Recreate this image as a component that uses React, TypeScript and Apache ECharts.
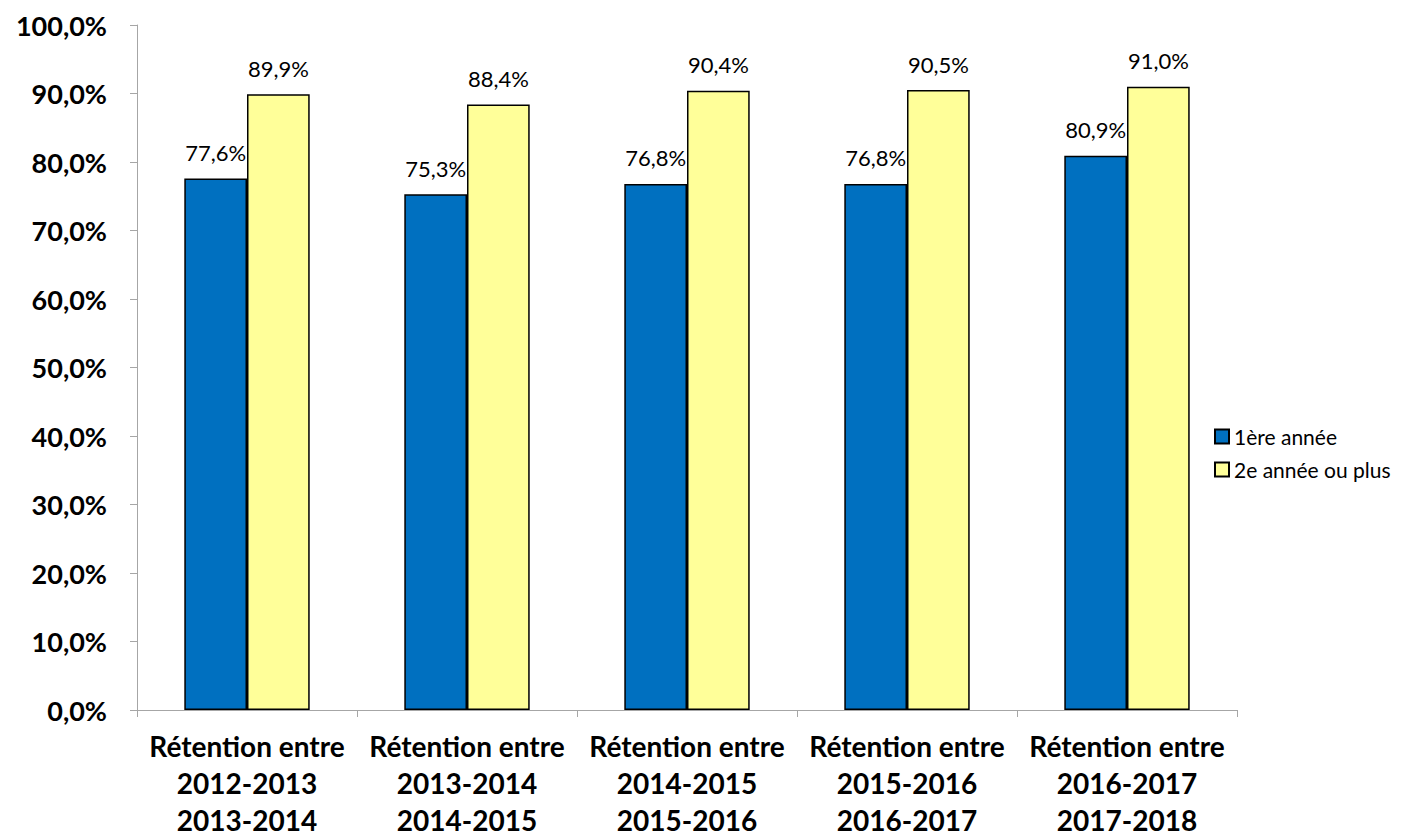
import React, { useEffect, useRef } from "react";
import * as echarts from "echarts";

const categories = [
  "Rétention entre\n2012-2013\n2013-2014",
  "Rétention entre\n2013-2014\n2014-2015",
  "Rétention entre\n2014-2015\n2015-2016",
  "Rétention entre\n2015-2016\n2016-2017",
  "Rétention entre\n2016-2017\n2017-2018",
];
const firstYear = [77.6, 75.3, 76.8, 76.8, 80.9];
const secondYearPlus = [89.9, 88.4, 90.4, 90.5, 91.0];
const seriesNames = ["1ère année", "2e année ou plus"];

const FONT = "Lato, 'Open Sans', sans-serif";
const fmt = (v: number) => v.toFixed(1).replace(".", ",") + "%";

export default function App() {
  const ref = useRef<HTMLDivElement>(null);
  useEffect(() => {
    const chart = echarts.init(ref.current!, null, { renderer: "svg" });
    const label = {
      show: true,
      position: "top",
      distance: 15,
      fontSize: 22,
      color: "#000",
      fontFamily: FONT,
      formatter: (p: any) => fmt(p.value),
    };
    chart.setOption({
      animation: false,
      textStyle: { fontFamily: FONT },
      grid: { left: 137, right: 183, top: 25, bottom: 130, outerBoundsMode: "none", containLabel: false },
      legend: {
        orient: "vertical",
        left: 1209,
        top: 421,
        icon: "rect",
        itemWidth: 14,
        itemHeight: 14,
        itemGap: 12,
        textStyle: { fontSize: 21, color: "#000", fontFamily: FONT },
        data: seriesNames,
      },
      xAxis: {
        type: "category",
        data: categories,
        axisLine: { lineStyle: { color: "#a6a6a6" } },
        axisTick: { show: true, length: 7, lineStyle: { color: "#a6a6a6" } },
        axisLabel: {
          fontSize: 28,
          fontWeight: "bold",
          color: "#000",
          lineHeight: 37,
          margin: 17,
          interval: 0,
          fontFamily: FONT,
        },
      },
      yAxis: {
        type: "value",
        min: 0,
        max: 100,
        interval: 10,
        splitLine: { show: false },
        axisLine: { show: true, lineStyle: { color: "#a6a6a6" } },
        axisTick: { show: true, length: 7, lineStyle: { color: "#a6a6a6" } },
        axisLabel: {
          fontSize: 27,
          fontWeight: "bold",
          color: "#000",
          margin: 30,
          fontFamily: FONT,
          formatter: (v: number) => fmt(v),
        },
      },
      series: [
        {
          name: seriesNames[0],
          type: "bar",
          data: firstYear,
          barGap: "0%",
          barCategoryGap: "43%",
          itemStyle: { color: "#0070C0", borderColor: "#000", borderWidth: 1.5 },
          label,
        },
        {
          name: seriesNames[1],
          type: "bar",
          data: secondYearPlus,
          barGap: "0%",
          barCategoryGap: "43%",
          itemStyle: { color: "#FFFF99", borderColor: "#000", borderWidth: 1.5 },
          label,
        },
      ],
    });
    return () => chart.dispose();
  }, []);
  return (
    <div
      ref={ref}
      style={{ position: "absolute", left: 0, top: 0, width: 1420, height: 840 }}
    />
  );
}
